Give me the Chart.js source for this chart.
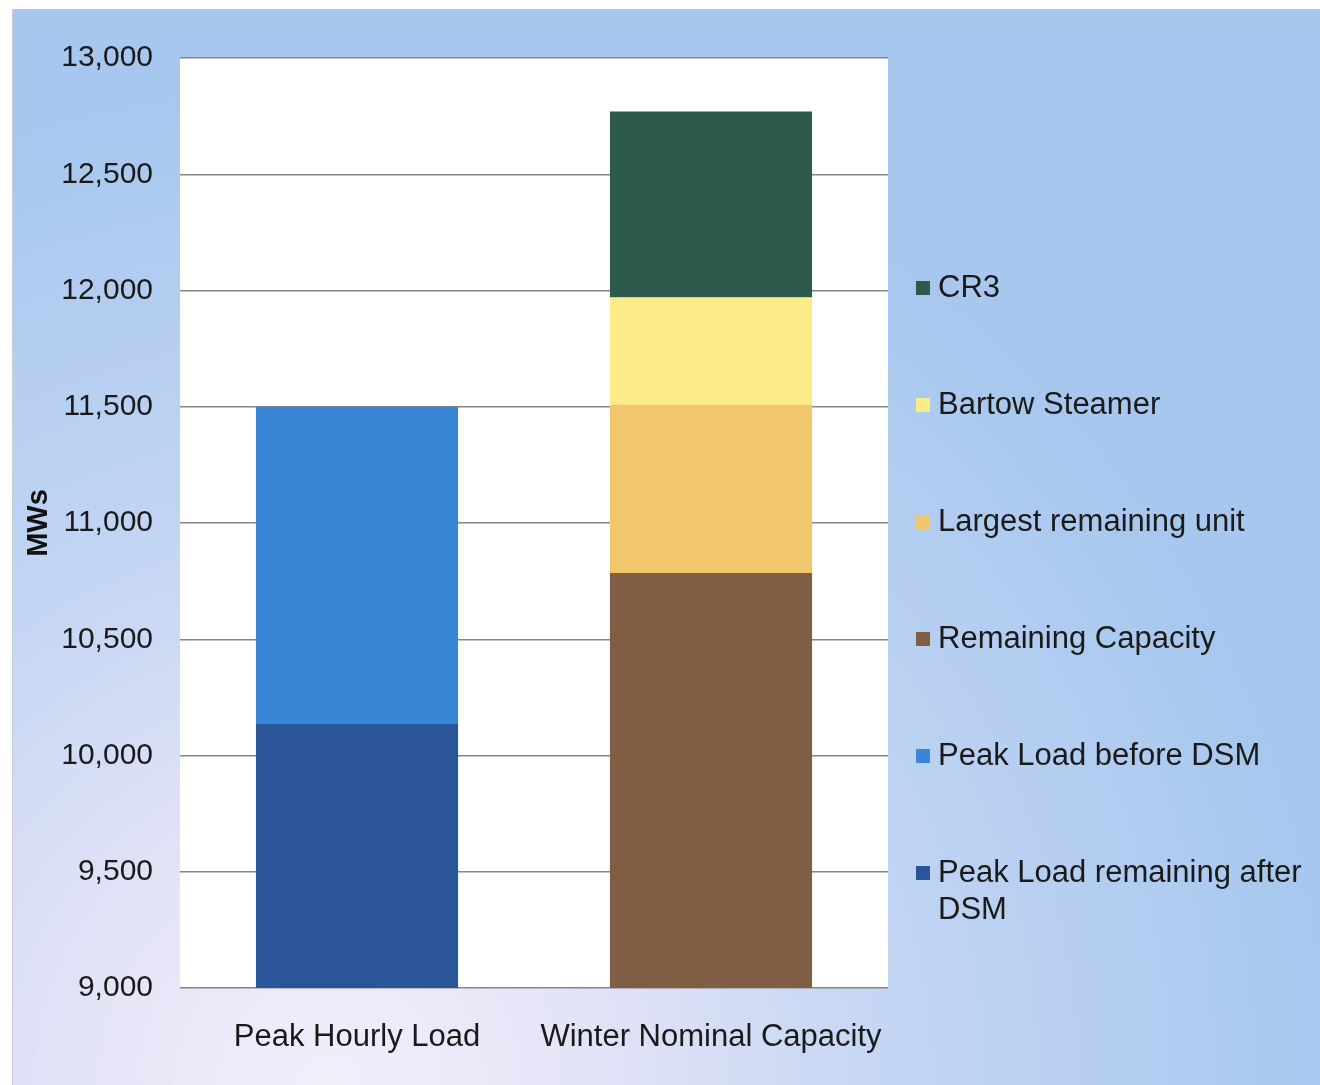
<!DOCTYPE html>
<html>
<head>
<meta charset="utf-8">
<title>Peak Load vs Winter Nominal Capacity</title>
<script src="https://cdn.jsdelivr.net/npm/chart.js@4.4.1/dist/chart.umd.min.js"></script>
<style>
  html, body { margin: 0; padding: 0; background: #ffffff; }
  canvas { display: block; }
</style>
</head>
<body>
<canvas id="chart" width="1320" height="1085"></canvas>
<script>
// Categories on the x axis
const categories = ['Peak Hourly Load', 'Winter Nominal Capacity'];

// Stacked segments, bottom to top (MW)
const peakAfterDSM      = [10135, null];
const peakBeforeDSM     = [1365, null];
const remainingCapacity = [null, 10785];
const largestUnit       = [null, 725];
const bartowSteamer     = [null, 460];
const cr3               = [null, 800];

// Series names
const seriesNames = [
  'Peak Load remaining after DSM',
  'Peak Load before DSM',
  'Remaining Capacity',
  'Largest remaining unit',
  'Bartow Steamer',
  'CR3'
];

// Value axis
const yMin = 9000;
const yMax = 13000;
const yStep = 500;
const yTitle = 'MWs';

const colors = ['#2a5699', '#3985d6', '#7f5e44', '#f1c76c', '#fcec88', '#2d5a4c'];
const seriesValues = [peakAfterDSM, peakBeforeDSM, remainingCapacity, largestUnit, bartowSteamer, cr3];

const FONT = "'Liberation Sans', Arial, Helvetica, sans-serif";

// Page background with a soft blue wash and a white plot area
const backdrop = {
  id: 'backdrop',
  beforeDraw(chart) {
    const { ctx, width, height, chartArea } = chart;
    ctx.save();
    ctx.fillStyle = '#ffffff';
    ctx.fillRect(0, 0, width, height);
    const g = ctx.createRadialGradient(330, 1085, 0, 330, 1085, 1000);
    g.addColorStop(0, '#f2effb');
    g.addColorStop(0.25, '#e4e4f7');
    g.addColorStop(0.6, '#c0d4f3');
    g.addColorStop(1, '#a7c7ee');
    ctx.fillStyle = g;
    ctx.fillRect(12, 9, width - 12, height - 9);
    ctx.strokeStyle = '#c9ccd4';
    ctx.lineWidth = 1;
    ctx.beginPath();
    ctx.moveTo(12.5, 9);
    ctx.lineTo(12.5, height);
    ctx.stroke();
    ctx.fillStyle = '#ffffff';
    ctx.fillRect(chartArea.left, chartArea.top, chartArea.right - chartArea.left, chartArea.bottom - chartArea.top);
    ctx.restore();
  }
};

// Legend on the right, listed top series first, wrapped to a fixed width
const sideLegend = {
  id: 'sideLegend',
  afterDraw(chart) {
    const { ctx } = chart;
    const sets = chart.data.datasets.slice().reverse();
    const x0 = 916, textX = 938, maxW = 1310 - textX;
    const startY = 288, stepY = 117, lineH = 37;
    ctx.save();
    ctx.font = '31px ' + FONT;
    ctx.textBaseline = 'middle';
    ctx.textAlign = 'left';
    sets.forEach((ds, i) => {
      const y = startY + i * stepY;
      ctx.fillStyle = ds.backgroundColor;
      ctx.fillRect(x0, y - 7, 14, 14);
      ctx.fillStyle = '#1a1a1a';
      const words = ds.label.split(' ');
      const lines = [];
      let cur = '';
      words.forEach(w => {
        const t = cur ? cur + ' ' + w : w;
        if (ctx.measureText(t).width > maxW && cur) { lines.push(cur); cur = w; }
        else cur = t;
      });
      lines.push(cur);
      lines.forEach((ln, k) => ctx.fillText(ln, textX, y + k * lineH));
    });
    ctx.restore();
  }
};

new Chart(document.getElementById('chart'), {
  type: 'bar',
  data: {
    labels: categories,
    datasets: seriesValues.map((vals, i) => ({
      label: seriesNames[i],
      data: vals,
      backgroundColor: colors[i],
      borderWidth: 0,
      categoryPercentage: 1,
      barPercentage: 0.571
    }))
  },
  options: {
    responsive: false,
    animation: false,
    layout: { padding: { top: 58, right: 432, bottom: 0, left: 0 } },
    plugins: {
      legend: { display: false },
      tooltip: { enabled: false }
    },
    scales: {
      x: {
        stacked: true,
        grid: { display: false },
        border: { display: false },
        ticks: { color: '#1a1a1a', font: { family: FONT, size: 31 }, padding: 23 },
        afterFit(scale) { scale.height = 97; }
      },
      y: {
        stacked: true,
        min: yMin,
        max: yMax,
        ticks: { stepSize: yStep, color: '#1a1a1a', font: { family: FONT, size: 30 }, padding: 27 },
        grid: { color: '#858585', lineWidth: 1.5, drawTicks: false },
        border: { display: false },
        title: {
          display: true,
          text: yTitle,
          color: '#111111',
          font: { family: FONT, size: 29, weight: 'bold' },
          padding: { top: 22, bottom: 0 }
        },
        afterFit(scale) { scale.width = 180; }
      }
    }
  },
  plugins: [backdrop, sideLegend]
});
</script>
</body>
</html>
